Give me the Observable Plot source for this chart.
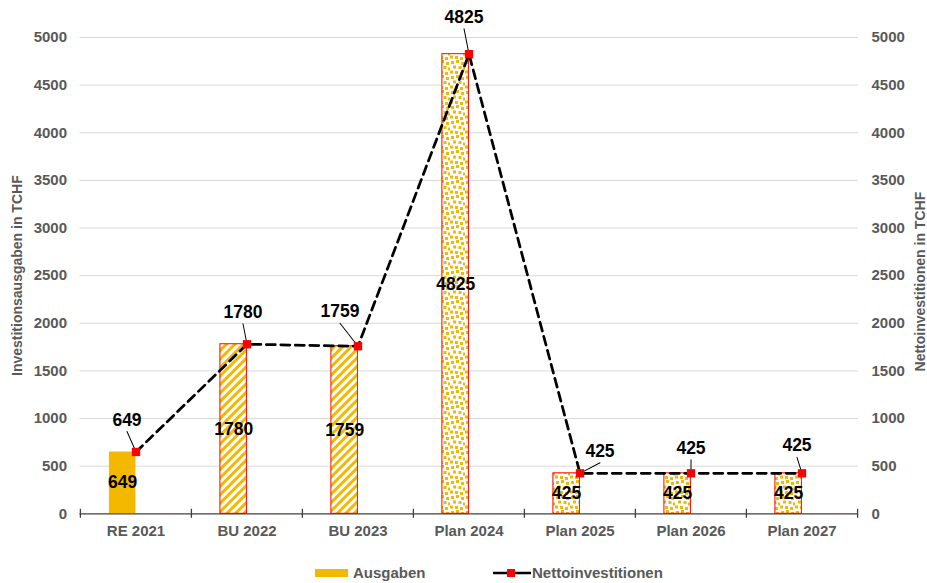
<!DOCTYPE html>
<html>
<head>
<meta charset="utf-8">
<script src="https://cdn.jsdelivr.net/npm/d3@7"></script>
<script src="https://cdn.jsdelivr.net/npm/@observablehq/plot@0.6"></script>
<style>
  html, body { margin: 0; padding: 0; background: #fff; }
  body { width: 927px; height: 583px; overflow: hidden; font-family: "Liberation Sans", Arial, sans-serif; }
  #legend { position: relative; height: 28px; font-weight: bold; font-size: 15px; color: #595959; }
  #legend .item { position: absolute; top: 9px; line-height: 18px; white-space: nowrap; }
</style>
</head>
<body>
<div id="chart"></div>
<div id="legend">
  <div class="item" style="left:315px"><span style="display:inline-block;width:33px;height:8px;background:#F5B800;vertical-align:1px;margin-right:5px"></span>Ausgaben</div>
  <div class="item" style="left:493px"><svg width="38" height="12" style="vertical-align:-1px;margin-right:1px"><line x1="0" x2="38" y1="6" y2="6" stroke="#000" stroke-width="2.5"/><rect x="14" y="2" width="8" height="8" fill="#ff0000"/></svg>Nettoinvestitionen</div>
</div>
<script>
// ---- data ----
const categories = ["RE 2021", "BU 2022", "BU 2023", "Plan 2024", "Plan 2025", "Plan 2026", "Plan 2027"];
const ausgaben = [649, 1780, 1759, 4825, 425, 425, 425];
const nettoinvestitionen = [649, 1780, 1759, 4825, 425, 425, 425];
const yTicks = [0, 500, 1000, 1500, 2000, 2500, 3000, 3500, 4000, 4500, 5000];
const leftTitle = "Investitionsausgaben in TCHF";
const rightTitle = "Nettoinvestitionen in TCHF";

// ---- layout / style ----
const W = 927, H = 555;
const mLeft = 79.5, mRight = 69, mTop = 37, mBottom = 41.7;
const bw = (W - mLeft - mRight) / categories.length;
const barW = 26.7;
const yellow = "#F5B800";
const gray = "#595959";
// pixel nudges of line data labels relative to their point (Excel-style placed labels)
const labelNudges = [[-9, -32], [-4, -32], [-18, -34.5], [-5, -37], [20, -22], [0, -25], [-5, -27.5]];

const bars = categories.map((c, i) => ({cat: c, value: ausgaben[i], kind: c.split(" ")[0]}));
const points = categories.map((c, i) => ({cat: c, value: nettoinvestitionen[i]}));
const fills = {RE: yellow, BU: "url(#stripes)", Plan: "url(#dots)"};

const lineShape = {draw(ctx, l) { ctx.moveTo(0, 0); ctx.lineTo(0, -l); }};

const leaderMarks = [];
const labelMarks = [];
points.forEach((p, i) => {
  const [ndx, ndy] = labelNudges[i];
  const sx = ndx, sy = ndy + 11.5;
  const vx = -sx, vy = -sy;
  const len = Math.hypot(vx, vy) - 1;
  const rot = Math.atan2(vx, -vy) * 180 / Math.PI;
  leaderMarks.push(Plot.vector([p], {x: "cat", y: "value", dx: sx, dy: sy, anchor: "start",
    length: len, rotate: rot, shape: lineShape, stroke: "#000", strokeWidth: 1}));
  labelMarks.push(Plot.text([p], {x: "cat", y: "value", text: d => String(d.value), dx: ndx, dy: ndy,
    fontSize: 17.5, fill: "#000"}));
});

const barMarks = Object.keys(fills).map(k => Plot.barY(bars.filter(d => d.kind === k), {
  x: "cat", y: "value", fill: fills[k],
  stroke: k === "RE" ? "none" : "#ff0000", strokeWidth: 1,
  insetLeft: bw / 2 - barW, insetRight: bw / 2
}));

const fmt = d => String(d);

const plot = Plot.plot({
  width: W, height: H,
  marginLeft: mLeft, marginRight: mRight, marginTop: mTop, marginBottom: mBottom,
  style: {fontFamily: "'Liberation Sans', Arial, sans-serif", fontWeight: "bold", background: "#fff"},
  x: {type: "band", domain: categories, padding: 0, label: null},
  y: {domain: [0, 5000], label: null},
  marks: [
    Plot.ruleY(yTicks.filter(t => t > 0), {stroke: "#d9d9d9", strokeWidth: 1}),
    ...barMarks,
    Plot.text(bars, {x: "cat", y: d => d.value / 2, text: d => String(d.value), dx: -barW / 2,
      fontSize: 17.5, fill: "#000"}),
    Plot.ruleY([0], {stroke: "#404040", strokeWidth: 1.3}),
    Plot.ruleX(categories, {x: d => d, dx: -bw / 2, y1: 0, y2: 0, insetTop: -4.5, insetBottom: -4.5, stroke: "#404040", strokeWidth: 1.3}),
    Plot.ruleX(categories.slice(-1), {x: d => d, dx: bw / 2, y1: 0, y2: 0, insetTop: -4.5, insetBottom: -4.5, stroke: "#404040", strokeWidth: 1.3}),
    Plot.line(points, {x: "cat", y: "value", stroke: "#000", strokeWidth: 2.75, strokeDasharray: "9,5.5"}),
    ...leaderMarks,
    Plot.dot(points, {x: "cat", y: "value", symbol: "square", r: 4.7, fill: "#ff0000"}),
    ...labelMarks,
    Plot.axisX({anchor: "bottom", tickSize: 0, tickPadding: 11.5, fontSize: 15, color: gray, label: null}),
    Plot.axisY({anchor: "left", ticks: yTicks, tickFormat: fmt, tickSize: 0, tickPadding: 13, fontSize: 15, color: gray, label: null}),
    Plot.axisY({anchor: "right", ticks: yTicks, tickFormat: fmt, tickSize: 0, tickPadding: 13, fontSize: 15, color: gray, label: null}),
    Plot.text([leftTitle], {frameAnchor: "left", textAnchor: "middle", dx: -62, rotate: -90, text: d => d, fontSize: 14, fill: gray}),
    Plot.text([rightTitle], {frameAnchor: "right", textAnchor: "middle", dx: 62, dy: 6, rotate: -90, text: d => d, fontSize: 14, fill: gray})
  ]
});

d3.select(plot).insert("defs", ":first-child").html(`
  <pattern id="stripes" patternUnits="userSpaceOnUse" width="6" height="6" patternTransform="rotate(45)">
    <rect width="6" height="6" fill="#fff"/>
    <rect width="3" height="6" fill="${yellow}"/>
  </pattern>
  <pattern id="dots" patternUnits="userSpaceOnUse" width="15" height="15">
    <rect width="15" height="15" fill="#fff"/>
    <g fill="${yellow}">
      <rect x="1" y="1" width="3" height="3"/>
      <rect x="6" y="0" width="3" height="3"/>
      <rect x="11" y="2" width="3" height="3"/>
      <rect x="3" y="5.5" width="3" height="3"/>
      <rect x="8.5" y="6" width="3" height="3"/>
      <rect x="13" y="7.5" width="2.5" height="3"/>
      <rect x="0" y="10.5" width="3" height="3"/>
      <rect x="5" y="11" width="3" height="3"/>
      <rect x="10" y="12" width="3" height="3"/>
    </g>
  </pattern>`);

document.getElementById("chart").appendChild(plot);
</script>
</body>
</html>
